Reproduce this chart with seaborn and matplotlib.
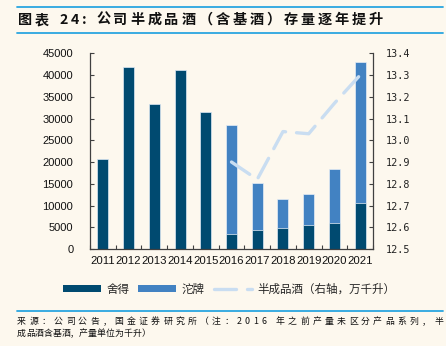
import numpy as np
import pandas as pd
import matplotlib
matplotlib.use("Agg")
import matplotlib.pyplot as plt
from matplotlib.patches import Patch
from matplotlib.lines import Line2D
import seaborn as sns

years = ["2011", "2012", "2013", "2014", "2015", "2016", "2017", "2018", "2019", "2020", "2021"]
shede = [20600, 41900, 33300, 41200, 31500, 3450, 4370, 4750, 5520, 6050, 10500]
tuopai = [0, 0, 0, 0, 0, 25140, 10880, 6820, 7200, 12280, 32500]
semi = [np.nan, np.nan, np.nan, np.nan, np.nan, 12.90, 12.82, 13.04, 13.03, 13.17, 13.30]

left_ticks = [0, 5000, 10000, 15000, 20000, 25000, 30000, 35000, 40000, 45000]
right_ticks = [12.5, 12.6, 12.7, 12.8, 12.9, 13.0, 13.1, 13.2, 13.3, 13.4]

title = "图表 24: 公司半成品酒（含基酒）存量逐年提升"
source_line1 = "来源：公司公告，国金证券研究所（注：2016 年之前产量未区分产品系列，半"
source_line2 = "成品酒含基酒，产量单位为千升）"
legend_labels = ["舍得", "沱牌", "半成品酒（右轴，万千升）"]

BG = "#fdf8ee"
DARK = "#004a70"
MID = "#4282c2"
LINE = "#c9ddf1"
RULE = "#2aa6e0"

sns.set_theme(style="white")
plt.rcParams["font.family"] = ["Liberation Sans", "Noto Sans CJK SC", "DejaVu Sans"]
CJK = ["Noto Sans CJK SC", "DejaVu Sans"]

df = pd.DataFrame({"year": years, "shede": shede,
                   "total": np.array(shede) + np.array(tuopai), "semi": semi})
df["pos"] = np.arange(len(years))

W, H = 446, 346
fig = plt.figure(figsize=(W / 100, H / 100), dpi=100, facecolor=BG)
ax = fig.add_axes([90 / W, 1 - 249 / H, 283 / W, (249 - 53.3) / H])
ax.set_facecolor(BG)

sns.barplot(data=df, x="year", y="total", color=MID, width=0.43, ax=ax,
            edgecolor="#e6eef6", linewidth=0.5, saturation=1)
sns.barplot(data=df, x="year", y="shede", color=DARK, width=0.43, ax=ax,
            edgecolor="#e6eef6", linewidth=0.5, saturation=1)

ax.set_xlim(-0.5, len(years) - 0.5)
ax.set_ylim(0, 45000)
ax.set_yticks(left_ticks)
ax.set_yticklabels([str(v) for v in left_ticks])
ax.set_xlabel("")
ax.set_ylabel("")
ax.set_xticks(np.arange(-0.5, len(years), 1), minor=True)
ax.tick_params(axis="x", which="major", length=0, pad=5, labelsize=8.2, colors="#111111")
ax.tick_params(axis="x", which="minor", direction="in", length=3, width=0.8, color="#404040", bottom=True)
ax.tick_params(axis="y", direction="in", length=3, width=0.8, color="#404040", pad=12,
               labelsize=8, labelcolor="#111111", left=True)

ax2 = ax.twinx()
sns.lineplot(data=df, x="pos", y="semi", ax=ax2, color=LINE, linewidth=2.4)
ln = ax2.get_lines()[0]
ln.set_dashes([6.6, 3.3])
ln.set_dash_capstyle("round")
ax2.set_ylim(12.5, 13.4)
ax2.set_yticks(right_ticks)
ax2.set_yticklabels([f"{v:.1f}" for v in right_ticks], family="DejaVu Sans Mono")
ax2.set_xlabel("")
ax2.set_ylabel("")
ax2.set_xlim(-0.5, len(years) - 0.5)
ax2.tick_params(axis="y", direction="in", length=3, width=0.8, color="#404040", pad=9,
                labelsize=7.3, labelcolor="#222222", right=True)

for a in (ax, ax2):
    for s in ["left", "right", "bottom"]:
        a.spines[s].set_color("#404040")
        a.spines[s].set_linewidth(0.9)
    a.spines["top"].set_visible(False)
ax.spines["right"].set_visible(False)
ax2.spines["left"].set_visible(False)
ax2.spines["bottom"].set_visible(False)

handles = [Patch(facecolor=DARK, edgecolor="none"),
           Patch(facecolor=MID, edgecolor="none"),
           Line2D([0], [0], color=LINE, linewidth=2.4, dashes=[6.6, 3.3], dash_capstyle="round")]
fig.legend(handles, legend_labels, loc="center", bbox_to_anchor=(229 / W, 1 - 289 / H),
           ncol=3, frameon=False, prop={"family": CJK, "size": 8.3},
           handlelength=3.3, handleheight=0.6, handletextpad=0.45, columnspacing=0.8)

for yy in (7, 33, 311):
    fig.add_artist(Line2D([17 / W, 443 / W], [1 - yy / H] * 2, color=RULE, lw=1.3,
                          transform=fig.transFigure))

renderer = fig.canvas.get_renderer()


def place(s, x0, x1, y, size, weight="normal", spacing=None):
    toks = list(s)
    arts = []
    widths = []
    for t in toks:
        a = fig.text(0, 0, t, family=CJK, fontsize=size, fontweight=weight,
                     va="center", ha="left", color="#111111")
        bb = a.get_window_extent(renderer)
        arts.append(a)
        widths.append(bb.width if t.strip() else size * 100 / 72 * 0.3)
    if spacing is None:
        spacing = (x1 - x0 - sum(widths)) / (len(toks) - 1)
    x = x0
    for a, w in zip(arts, widths):
        a.set_position((x / W, 1 - y / H))
        x += w + spacing
    return spacing


place(title, 18, 383, 20, 10.2, weight="bold")
place(source_line1, 17, 443, 321.5, 6.4)
place(source_line2, 17, 443, 333.5, 6.4, spacing=0.0)

fig.savefig("out.png", dpi=100, facecolor=BG)
